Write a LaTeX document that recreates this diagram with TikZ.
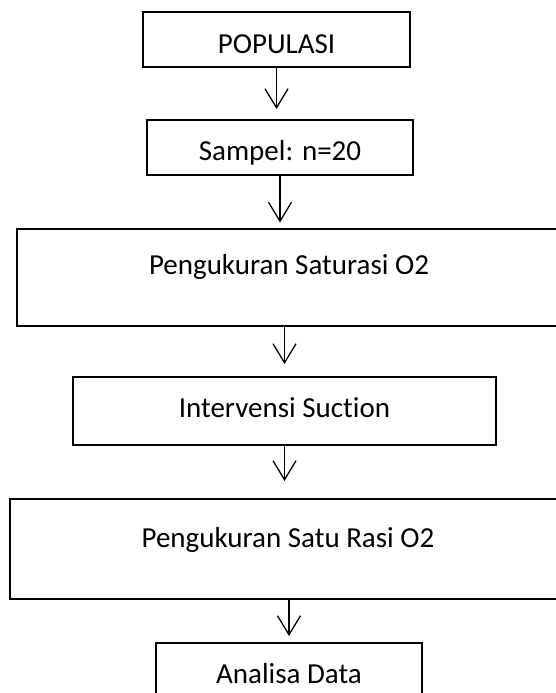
\documentclass[tikz,border=0pt]{standalone}
\usepackage{fontspec}
\setmainfont[Ligatures=NoCommon]{Carlito}
\usetikzlibrary{arrows.meta}

\begin{document}
\begin{tikzpicture}[x=1pt,y=-1pt,
  kotak/.style={draw,line width=2pt,inner sep=0pt,text height=28pt,
    font=\fontsize{29pt}{35pt}\selectfont},
  panah/.style={line width=1.3pt,-{Straight Barb[length=19pt,width=23pt]}}]
\useasboundingbox (0,0) rectangle (556,693);
\clip (0,0) rectangle (556,693);
\node [kotak,minimum width=267pt,minimum height=55pt,text depth=1pt] (populasi) at (276.5,39.5) {POPULASI};
\node [kotak,minimum width=266pt,minimum height=55pt,text depth=3pt] (sampel) at (280,147.5) {Sampel: n=20};
\node [kotak,minimum width=544pt,minimum height=97pt,text depth=33pt] (saturasi) at (289,277) {Pengukuran Saturasi O2};
\node [kotak,minimum width=423pt,minimum height=68pt,text depth=16pt] (suction) at (284.5,411) {Intervensi Suction};
\node [kotak,minimum width=556pt,minimum height=100pt,text depth=32pt] (saturasi2) at (288,549) {Pengukuran Satu Rasi O2};
\node [kotak,minimum width=266pt,minimum height=55pt,text depth=3pt] (analisa) at (289,670.5) {Analisa Data};
\draw [panah,shorten >=10pt] (populasi.south) -- (populasi.south |- sampel.north);
\draw [panah,shorten >=5pt] (sampel.south) -- (sampel.south |- saturasi.north);
\draw [panah,shorten >=12pt] (suction.north |- saturasi.south) -- (suction.north);
\draw [panah,shorten >=17pt] (suction.south) -- (suction.south |- saturasi2.north);
\draw [panah,shorten >=6pt] (saturasi2.south -| analisa.north) -- (analisa.north);
\end{tikzpicture}
\end{document}
